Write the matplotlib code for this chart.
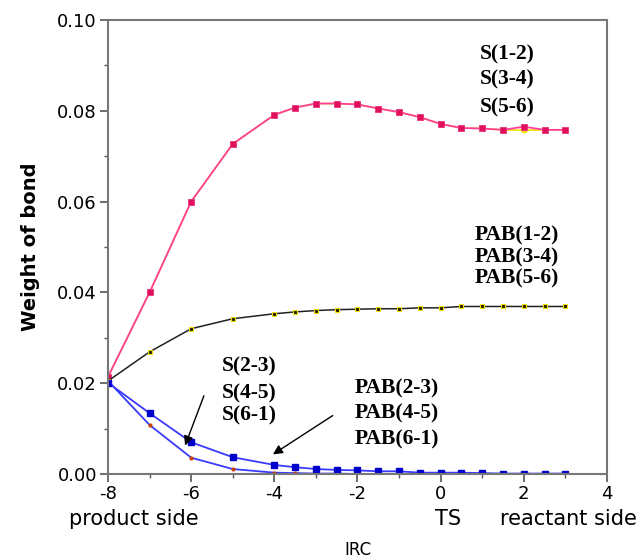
import matplotlib
matplotlib.use("Agg")
import matplotlib.pyplot as plt
from matplotlib.ticker import MultipleLocator

plt.rcParams["axes.unicode_minus"] = False

# IRC coordinate of every computed point
irc = [-8, -7, -6, -5, -4, -3.5, -3, -2.5, -2, -1.5, -1, -0.5, 0, 0.5, 1, 1.5, 2, 2.5, 3]

# weights of bond
s12 = [0.0214, 0.0400, 0.0600, 0.0727, 0.0791, 0.0807, 0.0816, 0.0816, 0.0814, 0.0805,
       0.0797, 0.0786, 0.0771, 0.0762, 0.0761, 0.0758, 0.0765, 0.0758, 0.0758]
s34 = [0.0214, 0.0400, 0.0600, 0.0727, 0.0791, 0.0807, 0.0816, 0.0816, 0.0814, 0.0805,
       0.0797, 0.0786, 0.0771, 0.0762, 0.0761, 0.0758, 0.0757, 0.0758, 0.0758]
pab12 = [0.0205, 0.0269, 0.0320, 0.0342, 0.0353, 0.0357, 0.0360, 0.0362, 0.0363, 0.0364,
         0.0364, 0.0366, 0.0366, 0.0369, 0.0369, 0.0369, 0.0369, 0.0369, 0.0369]
pab23 = [0.0201, 0.0134, 0.0070, 0.0037, 0.0020, 0.0015, 0.0011, 0.0009, 0.0008, 0.0006,
         0.0006, 0.0003, 0.0003, 0.0003, 0.0002, 0.0001, 0.0001, 0.0001, 0.0001]
s23 = [0.0205, 0.0108, 0.0036, 0.0011, 0.0003, 0.0002, 0.0001, 0.0001, 0.0, 0.0,
       0.0, 0.0, 0.0, 0.0, 0.0, 0.0, 0.0, 0.0, 0.0]

labels_s12 = ["S(1-2)", "S(3-4)", "S(5-6)"]
labels_pab12 = ["PAB(1-2)", "PAB(3-4)", "PAB(5-6)"]
labels_s23 = ["S(2-3)", "S(4-5)", "S(6-1)"]
labels_pab23 = ["PAB(2-3)", "PAB(4-5)", "PAB(6-1)"]

fig = plt.figure(figsize=(6.38, 5.58), dpi=100)
ax = fig.add_axes([0.1693, 0.1505, 0.782, 0.8137])

# pink group (two nearly identical curves)
ax.plot(irc, s34, color="#f5e000", lw=1.2, marker="s", ms=3.2, mfc="#f5e000", mec="#f5e000")
ax.plot(irc, s12, color="#ff3fa0", lw=1.3, marker="s", ms=3.8, mfc="#e0105a", mec="#e83080", mew=0.6)

# black / yellow group
ax.plot(irc, pab12, color="#222222", lw=1.1, marker="s", ms=3.5, mfc="#222200", mec="#f0e000", mew=0.8)

# blue groups
ax.plot(irc, s23, color="#3a3aff", lw=1.3, marker=".", ms=4, mfc="#c84000", mec="#c84000")
ax.plot(irc, pab23, color="#3a3aff", lw=1.3, marker="s", ms=4.5, mfc="#0000cc", mec="#0000cc")

ax.set_xlim(-8, 4)
ax.set_ylim(0, 0.10)
ax.xaxis.set_major_locator(MultipleLocator(2))
ax.xaxis.set_minor_locator(MultipleLocator(1))
ax.yaxis.set_major_locator(MultipleLocator(0.02))
ax.yaxis.set_minor_locator(MultipleLocator(0.01))
ax.yaxis.set_major_formatter(plt.FuncFormatter(lambda v, p: "%.2f" % v))
ax.tick_params(which="major", direction="out", length=6, width=1.2, labelsize=13,
               color="#555555", pad=2)
ax.tick_params(which="minor", direction="out", length=3, width=1, color="#555555")
for sp in ax.spines.values():
    sp.set_color("#777777")
    sp.set_linewidth(1.5)

ax.set_ylabel("Weight of bond", fontsize=14, fontweight="bold", labelpad=12)
fig.text(0.5 * (108 + 607) / 638, 1 - 550 / 558, "IRC", ha="center", va="center", fontsize=12)

# second row under x ticks
trans = ax.get_xaxis_transform()
for xv, t in [(-7.37, "product side"), (0.17, "TS"), (3.08, "reactant side")]:
    ax.text(xv, -0.1, t, transform=trans, ha="center", va="center", fontsize=15,
            clip_on=False)

serif = "Liberation Serif"
for xc, ys, labs in [(1.6, [0.0923, 0.0868, 0.0808], labels_s12),
                     (1.83, [0.0526, 0.0478, 0.0430], labels_pab12),
                     (-4.61, [0.0236, 0.0178, 0.0130], labels_s23),
                     (-1.06, [0.0189, 0.0134, 0.0075], labels_pab23)]:
    for yv, t in zip(ys, labs):
        ax.text(xc, yv, t, ha="center", va="center", family=serif,
                fontweight="bold", fontsize=15.5)

arr = dict(arrowstyle="-|>", color="black", lw=1.0, mutation_scale=14)
ax.annotate("", xy=(-6.17, 0.0057), xytext=(-5.67, 0.0178), arrowprops=arr)
ax.annotate("", xy=(-4.09, 0.0040), xytext=(-2.54, 0.0132), arrowprops=arr)

fig.savefig("out.png", dpi=100)
